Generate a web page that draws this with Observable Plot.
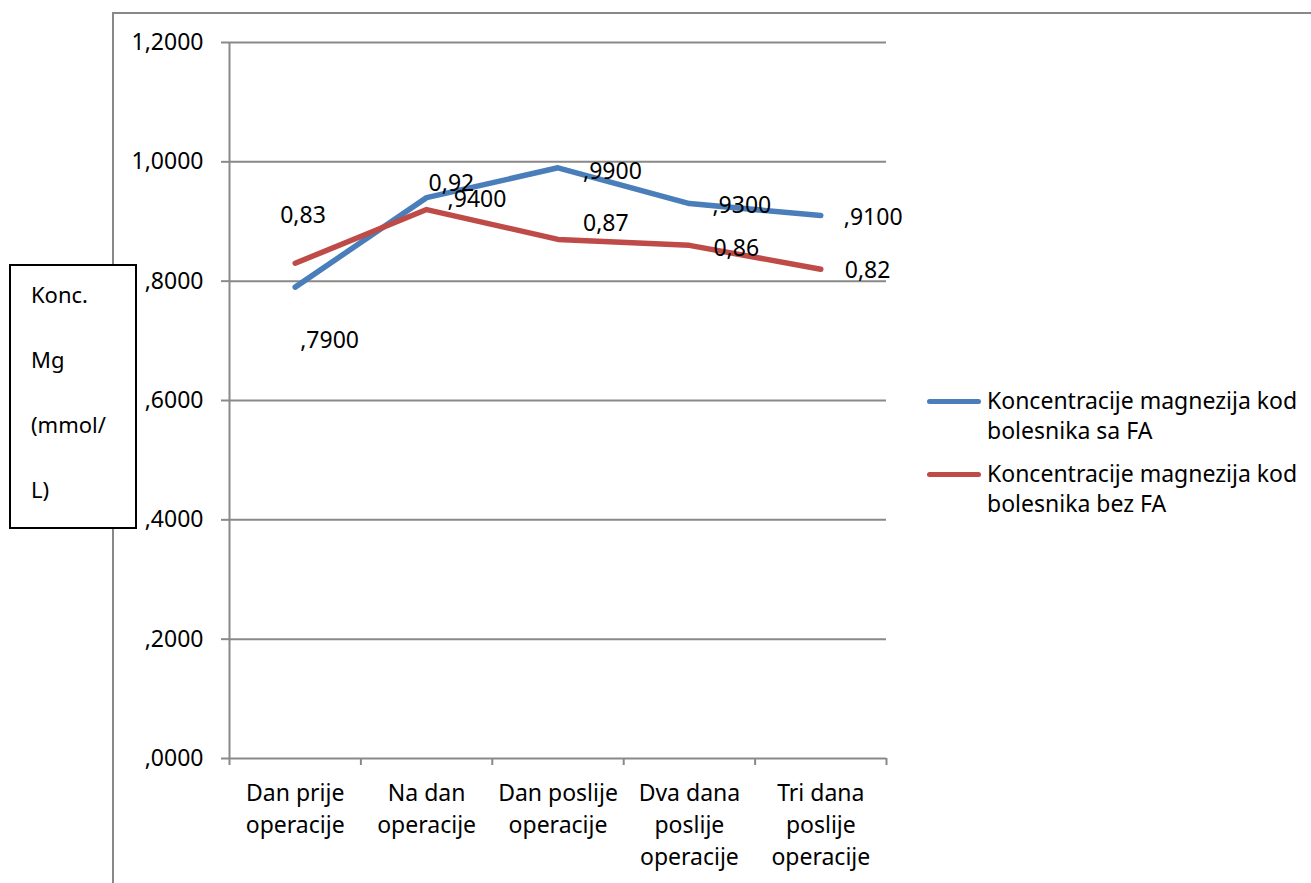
<!DOCTYPE html>
<html>
<head>
<meta charset="utf-8">
<script src="https://cdn.jsdelivr.net/npm/d3@7"></script>
<script src="https://cdn.jsdelivr.net/npm/@observablehq/plot@0.6"></script>
<style>
  html, body { margin: 0; padding: 0; background: #fff; overflow: hidden; }
  body { width: 1311px; height: 883px; position: relative; font-family: "Noto Sans", sans-serif; color: #000; }
  #frame { position: absolute; left: 112px; top: 12px; width: 1300px; height: 900px;
           border-left: 2px solid #888; border-top: 2px solid #888; z-index: 0; }
  #chart { position: absolute; left: 0; top: 0; z-index: 1; }
  #ylabel { position: absolute; left: 9px; top: 264px; width: 124px; height: 261px;
            border: 2px solid #000; background: #fff; z-index: 2; font-size: 22px; }
  #ylabel div { position: absolute; left: 20px; line-height: 30px; }
  #legend { position: absolute; left: 927px; top: 385px; z-index: 2; font-size: 23px; }
  .item { position: relative; padding-left: 60px; line-height: 30px; margin-bottom: 13px; }
  .swatch { position: absolute; left: 0; top: 14px; width: 54px; height: 5px; border-radius: 3px; }
</style>
</head>
<body>
<div id="frame"></div>
<div id="chart"></div>
<div id="ylabel"></div>
<div id="legend"></div>
<script>
const categories = ["Dan prije operacije", "Na dan operacije", "Dan poslije operacije", "Dva dana poslije operacije", "Tri dana poslije operacije"];
const tickLabels = ["Dan prije\noperacije", "Na dan\noperacije", "Dan poslije\noperacije", "Dva dana\nposlije\noperacije", "Tri dana\nposlije\noperacije"];
const seriesNames = ["Koncentracije magnezija kod bolesnika sa FA", "Koncentracije magnezija kod bolesnika bez FA"];
const withFA = [0.79, 0.94, 0.99, 0.93, 0.91];
const withoutFA = [0.83, 0.92, 0.87, 0.86, 0.82];
const yTicks = [0, 0.2, 0.4, 0.6, 0.8, 1.0, 1.2];
const yLabelLines = ["Konc.", "Mg", "(mmol/", "L)"];

const BLUE = "#4a7ebb";
const RED = "#be4b48";
const GRID = "#898989";
const FONT = 23;

const rowsFA = withFA.map((v, i) => ({i, cat: categories[i], value: v, series: seriesNames[0]}));
const rowsNo = withoutFA.map((v, i) => ({i, cat: categories[i], value: v, series: seriesNames[1]}));
const boundaries = d3.range(categories.length + 1).map(k => k - 0.5);

const fmtTick = d => {
  const s = d.toFixed(4).replace(".", ",");
  return s.startsWith("0,") ? s.slice(1) : s;
};
const fmtFA = v => fmtTick(v);
const fmtNo = v => v.toFixed(2).replace(".", ",");

// label placement (pixel offsets from each point)
const placeFA = [[5, 53], [21, 2], [25, 4], [23, 2], [23, 2]];
const placeNo = [[-15, -48], [2, -26], [25, -16], [24, 3], [24, 1]];

const labelMarks = [];
rowsFA.forEach((r, k) => labelMarks.push(Plot.text([r], {
  x: "i", y: "value", text: d => fmtFA(d.value), dx: placeFA[k][0], dy: placeFA[k][1],
  textAnchor: "start", fontSize: FONT, fill: "#000"
})));
rowsNo.forEach((r, k) => labelMarks.push(Plot.text([r], {
  x: "i", y: "value", text: d => fmtNo(d.value), dx: placeNo[k][0], dy: placeNo[k][1],
  textAnchor: "start", fontSize: FONT, fill: "#000"
})));

const chart = Plot.plot({
  width: 1311,
  height: 883,
  marginLeft: 229,
  marginRight: 425,
  marginTop: 42,
  marginBottom: 125,
  style: {fontFamily: "Noto Sans", fontSize: FONT + "px", background: "transparent", color: "#000", overflow: "visible"},
  x: {type: "linear", domain: [-0.5, categories.length - 0.5]},
  y: {domain: [0, 1.2]},
  marks: [
    Plot.ruleY(yTicks, {x1: -0.5, x2: categories.length - 0.5, stroke: GRID, strokeWidth: 2}),
    Plot.ruleX([-0.5], {y1: 0, y2: 1.2, stroke: GRID, strokeWidth: 2}),
    Plot.axisY(yTicks, {tickSize: 8, tickPadding: 18, tickFormat: fmtTick, fontSize: FONT, stroke: GRID, strokeWidth: 2, fill: "#000", label: null}),
    Plot.axisX(boundaries, {tickSize: 7, tickFormat: () => "", stroke: GRID, strokeWidth: 2, label: null}),
    Plot.text(tickLabels.map((t, i) => ({i, t})), {x: "i", y: () => 0, text: "t", dy: 20, lineAnchor: "top", lineHeight: 1.38, fontSize: FONT, fill: "#000"}),
    Plot.line(rowsFA, {x: "i", y: "value", stroke: BLUE, strokeWidth: 5.5, strokeLinejoin: "round", strokeLinecap: "round"}),
    Plot.line(rowsNo, {x: "i", y: "value", stroke: RED, strokeWidth: 5.5, strokeLinejoin: "round", strokeLinecap: "round"}),
    ...labelMarks
  ]
});
document.getElementById("chart").appendChild(chart);

// y-axis title box
const yl = document.getElementById("ylabel");
yLabelLines.forEach((t, k) => {
  const d = document.createElement("div");
  d.textContent = t;
  d.style.top = (13 + k * 65) + "px";
  yl.appendChild(d);
});

// legend
const lg = document.getElementById("legend");
[[seriesNames[0], BLUE], [seriesNames[1], RED]].forEach(([name, c]) => {
  const it = document.createElement("div");
  it.className = "item";
  const sw = document.createElement("span");
  sw.className = "swatch";
  sw.style.background = c;
  it.appendChild(sw);
  const words = name.split(" ");
  const line1 = words.slice(0, 3).join(" ");
  const line2 = words.slice(3).join(" ");
  it.appendChild(document.createTextNode(line1));
  it.appendChild(document.createElement("br"));
  it.appendChild(document.createTextNode(line2));
  lg.appendChild(it);
});
</script>
</body>
</html>
